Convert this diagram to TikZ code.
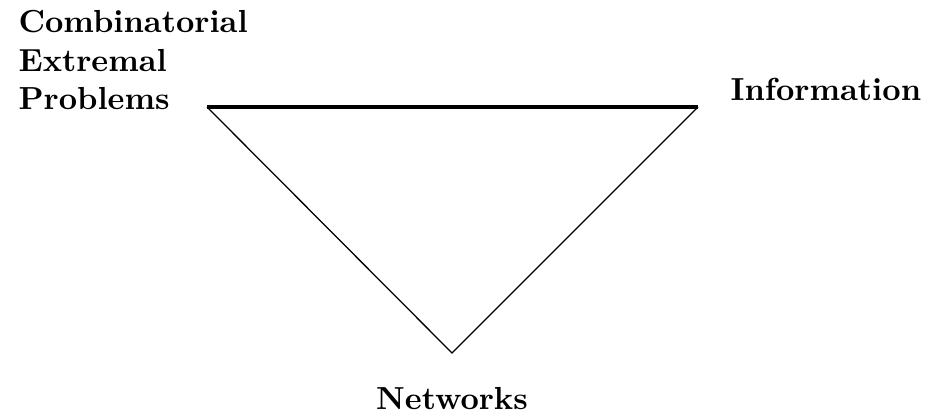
\documentclass[tikz,border=0pt]{standalone}
\usepackage{tikz}
\usetikzlibrary{positioning}

\begin{document}
\begin{tikzpicture}[
    x=0.3135pt,y=-0.3135pt,
    lbl/.style={font=\bfseries,inner sep=0pt},
    side/.style={line width=0.4pt},
    topside/.style={line width=1.2pt}
  ]
  \useasboundingbox (0,0) rectangle (925,412);
  % Corners
  \coordinate (cep) at (207,107);
  \coordinate (inf) at (698,107);
  \coordinate (net) at (452,353);
  % Labels
  \node[lbl,align=left,anchor=north west] (cepl) at (18,10) {Combinatorial\\Extremal\\Problems};
  \node[lbl,anchor=base west] (infl) at (730,101) {Information};
  \node[lbl,anchor=base] (netl) at (452,410) {Networks};
  % Triangle
  \draw[topside] (cep) -- (inf);
  \draw[side] (cep) -- (net) -- (inf);
\end{tikzpicture}
\end{document}
